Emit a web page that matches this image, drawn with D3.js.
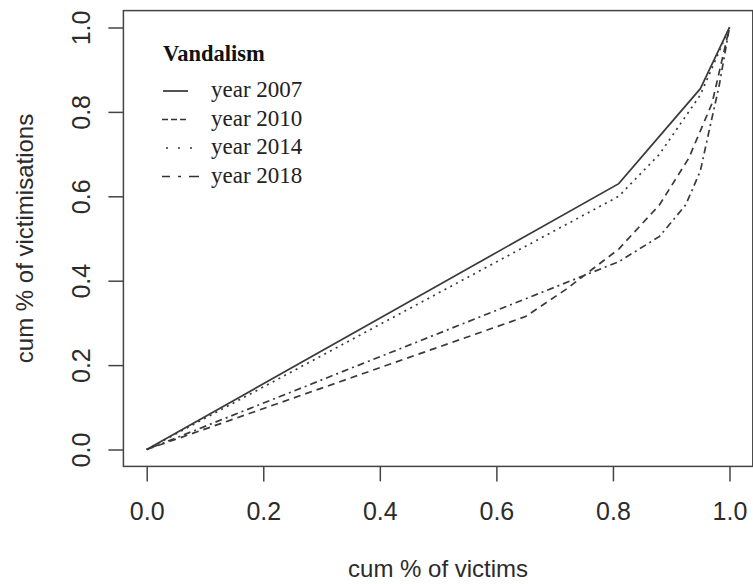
<!DOCTYPE html>
<html>
<head>
<meta charset="utf-8">
<script src="https://cdn.jsdelivr.net/npm/d3@7"></script>
<style>
  html, body { margin: 0; padding: 0; background: #fff; }
  svg { display: block; }
</style>
</head>
<body>
<svg id="chart" width="753" height="584"></svg>
<script>
// Concentration curves: cumulative share of victims vs cumulative share of victimisations
const years = ["year 2007", "year 2010", "year 2014", "year 2018"];

const victims2007 = [0, 0.81, 0.95, 1];
const victimisations2007 = [0, 0.63, 0.855, 1];

const victims2010 = [0, 0.65, 0.72, 0.81, 0.88, 0.93, 0.97, 1];
const victimisations2010 = [0, 0.315, 0.38, 0.475, 0.58, 0.69, 0.82, 1];

const victims2014 = [0, 0.81, 0.88, 0.95, 1];
const victimisations2014 = [0, 0.60, 0.70, 0.84, 1];

const victims2018 = [0, 0.81, 0.88, 0.925, 0.95, 0.965, 0.982, 1];
const victimisations2018 = [0, 0.445, 0.505, 0.58, 0.66, 0.755, 0.86, 1];

const xTicks = [0, 0.2, 0.4, 0.6, 0.8, 1.0];
const yTicks = [0, 0.2, 0.4, 0.6, 0.8, 1.0];

const legendTitle = "Vandalism";
const xTitle = "cum % of victims";
const yTitle = "cum % of victimisations";

// line types for the curves and for the short legend keys
const dashes = [null, "7,5", "2,4.5", "2,4,7,4"];
const keyDashes = [null, "6,3", "2,10", "8,8,3,8,10"];
const keyStart = [163, 162, 166, 162];
const keyEnd = [188, 187, 193, 200];

const series = years.map((name, i) => {
  const xs = [victims2007, victims2010, victims2014, victims2018][i];
  const ys = [victimisations2007, victimisations2010, victimisations2014, victimisations2018][i];
  return {
    name, dash: dashes[i], keyDash: keyDashes[i], k0: keyStart[i], k1: keyEnd[i],
    points: xs.map((v, j) => [v, ys[j]])
  };
});

const svg = d3.select("#chart");
const ink = "#2b2b2b";
const sansFont = "'Liberation Sans', Arial, Helvetica, sans-serif";
const serifFont = "'Liberation Serif', 'Times New Roman', Times, serif";

// Axis ranges padded by 4% on each side
const x = d3.scaleLinear().domain([-0.04, 1.04]).range([123.4, 752.8]);
const y = d3.scaleLinear().domain([-0.04, 1.04]).range([466.4, 10.6]);

// Plot frame
svg.append("rect")
  .attr("x", x(-0.04)).attr("y", y(1.04))
  .attr("width", x(1.04) - x(-0.04)).attr("height", y(-0.04) - y(1.04))
  .attr("fill", "none").attr("stroke", "#444").attr("stroke-width", 1.5);

// Bottom axis
const gx = svg.append("g")
  .attr("transform", `translate(0,${y(-0.04)})`)
  .call(d3.axisBottom(x).tickValues(xTicks).tickFormat(d3.format(".1f")).tickSize(15).tickSizeOuter(0));
gx.select(".domain").remove();
gx.selectAll(".tick line").attr("stroke", "#444").attr("stroke-width", 1.5);
gx.selectAll(".tick text")
  .attr("y", 520 - y(-0.04)).attr("dy", 0)
  .attr("fill", ink).style("font-family", sansFont).style("font-size", "25px");

// Left axis with labels rotated parallel to the axis
const gy = svg.append("g")
  .attr("transform", `translate(${x(-0.04)},0)`)
  .call(d3.axisLeft(y).tickValues(yTicks).tickFormat(d3.format(".1f")).tickSize(15).tickSizeOuter(0));
gy.select(".domain").remove();
gy.selectAll(".tick line").attr("stroke", "#444").attr("stroke-width", 1.5);
gy.selectAll(".tick text")
  .attr("x", null).attr("dy", null)
  .attr("transform", `translate(${90 - x(-0.04)},0) rotate(-90)`)
  .attr("text-anchor", "middle")
  .attr("fill", ink).style("font-family", sansFont).style("font-size", "25px");

// Axis titles
svg.append("text")
  .attr("x", (x(-0.04) + x(1.04)) / 2).attr("y", 577)
  .attr("text-anchor", "middle")
  .attr("fill", ink).style("font-family", sansFont).style("font-size", "24px")
  .text(xTitle);

svg.append("text")
  .attr("transform", `translate(33,${(y(-0.04) + y(1.04)) / 2}) rotate(-90)`)
  .attr("text-anchor", "middle")
  .attr("fill", ink).style("font-family", sansFont).style("font-size", "24px")
  .text(yTitle);

// Curves
const line = d3.line().x(d => x(d[0])).y(d => y(d[1]));
svg.append("g").selectAll("path")
  .data(series)
  .join("path")
  .attr("d", d => line(d.points))
  .attr("fill", "none")
  .attr("stroke", "#3a3a3a")
  .attr("stroke-width", 1.7)
  .attr("stroke-dasharray", d => d.dash);

// Legend
const legend = svg.append("g");
legend.append("text")
  .attr("x", 163).attr("y", 61)
  .attr("fill", "#111").style("font-family", serifFont).style("font-size", "22.5px")
  .style("font-weight", "bold")
  .text(legendTitle);

const rows = legend.selectAll("g.row")
  .data(series)
  .join("g")
  .attr("class", "row")
  .attr("transform", (d, i) => `translate(0,${97 + i * 28.5})`);

rows.append("line")
  .attr("x1", d => d.k0).attr("x2", d => d.k1)
  .attr("y1", -6).attr("y2", -6)
  .attr("stroke", "#333").attr("stroke-width", 1.7)
  .attr("stroke-dasharray", d => d.keyDash);

rows.append("text")
  .attr("x", 211).attr("y", 0)
  .attr("fill", "#222").style("font-family", serifFont).style("font-size", "23px")
  .text(d => d.name);
</script>
</body>
</html>
